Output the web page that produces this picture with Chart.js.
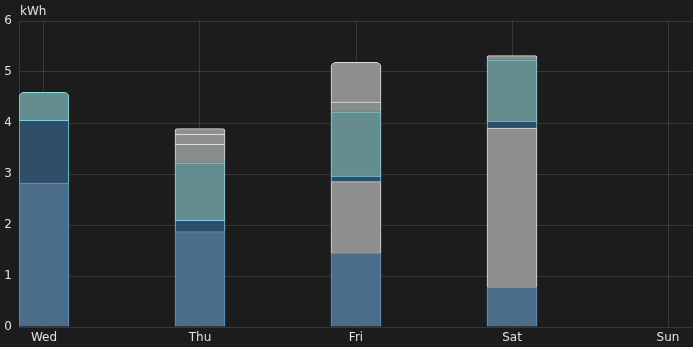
<!DOCTYPE html>
<html>
<head>
<meta charset="utf-8">
<script src="https://cdn.jsdelivr.net/npm/chart.js@4"></script>
<style>
  html, body { margin: 0; padding: 0; background: #1c1c1c; }
  #wrap { width: 693px; height: 347px; }
</style>
</head>
<body>
<div id="wrap"><canvas id="energy"></canvas></div>
<script>
// days on the x axis (0 = Wed ... 4 = Sun)
const days = ['Wed', 'Thu', 'Fri', 'Sat', 'Sun'];
const yTicks = [0, 1, 2, 3, 4, 5, 6];

// kWh per day, one array per stacked source (bottom to top), null = nothing
const gridMain   = [2.82, 1.87, 1.45, 0.78, null];
const gridPeak   = [null, null, 1.40, 3.12, null];
const gridLow    = [1.23, 0.22, 0.11, 0.14, null];
const battery    = [0.55, 1.13, 1.26, 1.20, null];
const otherA     = [null, 0.36, 0.19, 0.08, null];
const otherB     = [null, 0.20, 0.78, null, null];
const otherC     = [null, 0.11, null, null, null];

const series = [
  { label: 'Grid', values: gridMain, bg: '#4b6d8a', border: '#5b9bd0' },
  { label: 'Grid peak', values: gridPeak, bg: '#8f8f8f', border: '#dadada' },
  { label: 'Grid low', values: gridLow, bg: '#2f4f69', border: '#7fcdea' },
  { label: 'Battery', values: battery, bg: '#658c8e', border: '#8fdbe4' },
  { label: 'Other 1', values: otherA, bg: '#858e8b', border: '#dcdcdc' },
  { label: 'Other 2', values: otherB, bg: '#8e8e8e', border: '#dcdcdc' },
  { label: 'Other 3', values: otherC, bg: '#8e8e8e', border: '#dcdcdc' }
];

// only the highest segment of each day gets rounded corners
function isTop(ctx) {
  const i = ctx.dataIndex;
  for (let d = series.length - 1; d >= 0; d--) {
    if (series[d].values[i] != null) return d === ctx.datasetIndex;
  }
  return false;
}

const datasets = series.map(s => ({
  label: s.label,
  data: s.values.map((v, i) => ({ x: i, y: v })),
  backgroundColor: s.bg,
  borderColor: s.border,
  borderWidth: 1,
  borderSkipped: 'bottom',
  borderRadius: ctx => isTop(ctx) ? { topLeft: 5, topRight: 5, bottomLeft: 0, bottomRight: 0 } : 0,
  barThickness: 50
}));

const unitLabel = {
  id: 'unitLabel',
  afterDraw(chart) {
    const c = chart.ctx;
    c.save();
    c.font = '12px "DejaVu Sans"';
    c.fillStyle = '#e1e1e1';
    c.textBaseline = 'middle';
    c.fillText('kWh', chart.chartArea.left + 1, 12);
    c.restore();
  }
};

const gridColor = 'rgba(255,255,255,0.12)';

new Chart(document.getElementById('energy'), {
  type: 'bar',
  data: { datasets: datasets },
  options: {
    responsive: true,
    maintainAspectRatio: false,
    animation: false,
    layout: { padding: { top: 21, left: 0, right: 0, bottom: 0 } },
    plugins: { legend: { display: false }, tooltip: { enabled: false } },
    scales: {
      x: {
        type: 'linear',
        stacked: true,
        offset: false,
        min: -0.16,
        max: 4.16,
        afterBuildTicks: axis => { axis.ticks = days.map((d, i) => ({ value: i })); },
        afterFit: axis => { axis.height = 20; },
        grid: { color: gridColor, drawTicks: false, offset: false },
        border: { display: false },
        ticks: {
          color: '#e1e1e1',
          font: { family: 'DejaVu Sans', size: 12 },
          padding: 4,
          maxRotation: 0,
          callback: v => days[v]
        }
      },
      y: {
        stacked: true,
        min: 0,
        max: 6,
        afterBuildTicks: axis => { axis.ticks = yTicks.map(v => ({ value: v })); },
        afterFit: axis => { axis.width = 19; },
        grid: { color: gridColor, drawTicks: false },
        border: { display: true, color: gridColor },
        ticks: {
          color: '#e1e1e1',
          font: { family: 'DejaVu Sans', size: 12 },
          padding: 7
        }
      }
    }
  },
  plugins: [unitLabel]
});
</script>
</body>
</html>
